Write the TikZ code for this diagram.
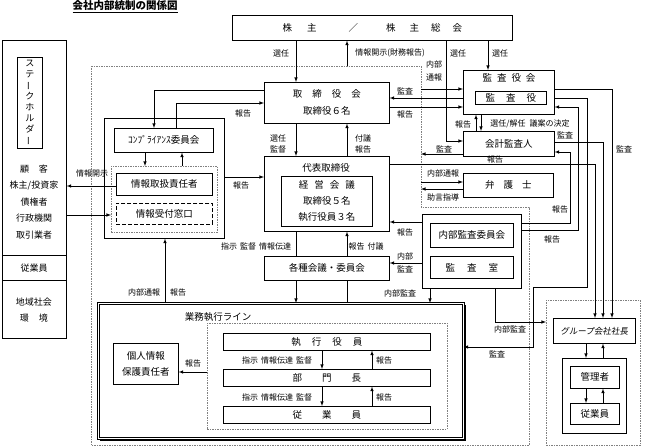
\documentclass[tikz,border=0pt]{standalone}
\usepackage{fontspec}
\setmainfont{Noto Sans CJK JP}
\newfontfamily\slantfont{Noto Sans CJK JP}[FakeSlant=0.15]
\usetikzlibrary{arrows}
\tikzstyle{box} = [draw, line width=0.6pt, rectangle, inner sep=0pt, anchor=north west, align=center, font=\fontsize{9.5}{12}\selectfont]
\tikzstyle{grp} = [draw, line width=0.6pt, rectangle, inner sep=0pt, anchor=north west]
\tikzstyle{dots} = [draw=gray, line width=0.5pt, dash pattern=on 1.5pt off 1pt, rectangle, inner sep=0pt, anchor=north west]
\tikzstyle{lbl} = [inner sep=0pt, font=\fontsize{8}{9}\selectfont]
\tikzstyle{arr} = [->, >=latex, line width=0.6pt]
\tikzstyle{ln} = [line width=0.6pt]

\begin{document}
\begin{tikzpicture}[x=1pt, y=-1pt]
\useasboundingbox (0,0) rectangle (645,447);
\node[inner sep=0pt, font=\fontsize{10.5}{12}\selectfont\bfseries] (title) at (125,7) {\underline{会社内部統制の関係図}};

% company boundary
\coordinate (cotl) at (91,66);
\coordinate (cotr) at (421,66);
\draw[gray, line width=0.5pt, dash pattern=on 1.5pt off 1pt] (cotl) -- (cotr) -- (421,207) -- (529,207) -- (529,445) -- (91,445) -- cycle;

% stakeholders
\node[grp, minimum width=64pt, minimum height=298pt] (stake) at (2,40) {};
\draw[ln] (stake.west |- 0,255) -- (stake.east |- 0,255);
\draw[ln] (stake.west |- 0,280) -- (stake.east |- 0,280);
\node[box, line width=0.9pt, minimum width=25pt, minimum height=91pt, font=\fontsize{9}{11}\selectfont] (sh) at (17,57) {ス\\テ\\\rotatebox[origin=c]{90}{ー}\\ク\\ホ\\ル\\ダ\\\rotatebox[origin=c]{90}{ー}};
\node[lbl, align=center, font=\fontsize{9}{16.5}\selectfont] (shlist) at (34,202) {顧\hspace{10pt}客\\株主/投資家\\債権者\\行政機関\\取引業者};
\node[lbl, font=\fontsize{9}{11}\selectfont] (shemp) at (34,268) {従業員};
\node[lbl, align=center, font=\fontsize{9}{16}\selectfont] (shcom) at (34,310) {地域社会\\環\hspace{10pt}境};

% compliance
\node[grp, minimum width=120pt, minimum height=120pt] (compgrp) at (104,118) {};
\node[box, minimum width=99pt, minimum height=24pt] (comp) at (114,128) {ｺﾝﾌﾟﾗｲｱﾝｽ委員会};
\node[dots, minimum width=106pt, minimum height=66pt] (info) at (111,166) {};
\node[box, minimum width=96pt, minimum height=22pt] (joho) at (116,173) {情報取扱責任者};
\node[box, line width=0.8pt, dash pattern=on 4pt off 2pt, minimum width=96pt, minimum height=21pt] (madoguchi) at (116,203) {情報受付窓口};

% board and executives
\node[box, minimum width=125pt, minimum height=41pt, font=\fontsize{9.5}{17}\selectfont] (tori) at (264,82) {取\hspace{10pt}締\hspace{10pt}役\hspace{10pt}会\\取締役６名};
\node[grp, minimum width=125pt, minimum height=75pt] (daihyo) at (264,156) {};
\node[lbl, font=\fontsize{9.5}{11}\selectfont] (daihyot) at (326,168) {代表取締役};
\node[box, minimum width=91pt, minimum height=50pt, font=\fontsize{9.5}{16}\selectfont] (keiei) at (281,176) {経\hspace{6pt}営\hspace{6pt}会\hspace{6pt}議\\取締役５名\\執行役員３名};
\node[box, minimum width=125pt, minimum height=24pt] (kakushu) at (264,256) {各種会議・委員会};
\node[box, minimum width=280pt, minimum height=25pt] (kabu) at (232,15) {株\hspace{15pt}主\hspace{32pt}／\hspace{28pt}株\hspace{14pt}主\hspace{12pt}総\hspace{12pt}会};

% audit
\node[grp, minimum width=91pt, minimum height=44pt] (kansa) at (463,70) {};
\node[lbl, font=\fontsize{9.5}{11}\selectfont] (kansat) at (509,78) {監\hspace{5pt}査\hspace{5pt}役\hspace{5pt}会};
\node[box, line width=0.9pt, minimum width=71pt, minimum height=13pt] (kansayaku) at (475,91) {監\hspace{11pt}査\hspace{11pt}役};
\node[box, minimum width=91pt, minimum height=25pt] (kaikei) at (463,131) {会計監査人};
\node[box, minimum width=90pt, minimum height=24pt] (bengo) at (463,173) {弁\hspace{9pt}護\hspace{9pt}士};
\node[grp, minimum width=99pt, minimum height=74pt] (naibu) at (422,214) {};
\node[box, minimum width=83pt, minimum height=24pt] (iinkai) at (430,223) {内部監査委員会};
\node[box, minimum width=83pt, minimum height=22pt] (shitsu) at (430,256) {監\hspace{12pt}査\hspace{12pt}室};

% business line
\node[grp, double, double distance=1.5pt, minimum width=365pt, minimum height=135pt] (gyomu) at (98,303) {};
\draw[line width=1pt] ([xshift=1.8pt,yshift=-2pt]gyomu.north east) -- ([xshift=1.8pt,yshift=-1.8pt]gyomu.south east) -- ([xshift=2pt,yshift=-1.8pt]gyomu.south west);
\node[lbl, font=\fontsize{9.5}{11}\selectfont] (gyomut) at (218,317) {業務執行ライン};
\node[dots, minimum width=240pt, minimum height=106pt] (gyomuin) at (207,323) {};
\node[box, minimum width=207pt, minimum height=17pt] (shikko) at (223,333) {執\hspace{11pt}行\hspace{11pt}役\hspace{11pt}員};
\node[box, minimum width=207pt, minimum height=17pt] (bumon) at (223,369) {部\hspace{20pt}門\hspace{20pt}長};
\node[box, minimum width=207pt, minimum height=17pt] (jugyo) at (223,406) {従\hspace{20pt}業\hspace{20pt}員};
\node[box, minimum width=65pt, minimum height=41pt, font=\fontsize{9.5}{16}\selectfont] (kojin) at (113,343) {個人情報\\保護責任者};

% group companies
\node[dots, minimum width=94pt, minimum height=145pt] (grpco) at (546,300) {};
\node[box, minimum width=82pt, minimum height=25pt, font=\slantfont\fontsize{8.5}{11}\selectfont] (gshacho) at (553,318) {グループ会社社長};
\node[grp, line width=0.9pt, minimum width=64pt, minimum height=75pt] (gin) at (562,358) {};
\node[box, minimum width=49pt, minimum height=22pt] (kanri) at (570,366) {管理者};
\node[box, minimum width=49pt, minimum height=21pt] (gjugyo) at (570,403) {従業員};

% shareholders
\draw[arr] (kabu.south -| 296,0) -- (tori.north -| 296,0);
\node[lbl] (l1) at (281,53) {選任};
\draw[arr] (347,0 |- cotl) -- (kabu.south -| 347,0);
\node[lbl] (l2) at (390,53) {情報開示(財務報告)};
\draw[arr] (kabu.south -| 446,0) |- (kaikei.west |- 0,141);
\node[lbl] (l3) at (458,53) {選任};
\draw[arr] (kabu.south -| 488,0) -- (kansa.north -| 488,0);
\node[lbl] (l4) at (500,53) {選任};

% audit board
\draw[arr] (cotr |- 0,89) -- (kansa.west |- 0,89);
\node[lbl, align=center, font=\fontsize{8}{13}\selectfont] (l5) at (434,71) {内部\\通報};
\draw[arr] (kansa.west |- 0,98) -- (tori.east |- 0,98);
\node[lbl] (l6) at (405,91) {監査};
\draw[arr] (tori.east |- 0,107) -- (kansa.west |- 0,107);
\node[lbl] (l7) at (405,114) {報告};
\draw[arr] (kaikei.north -| 476,0) -- (kansa.south -| 476,0);
\draw[arr] (kansa.south -| 481,0) -- (kaikei.north -| 481,0);
\node[lbl] (l8) at (463,124) {報告};
\node[lbl] (l9) at (530,124) {選任/解任\hspace{4pt}議案の決定};
\draw[arr] (kaikei.west |- 0,154) -- (cotr |- 0,154);
\node[lbl] (l10) at (444,149) {監査};

% lines to the right
\draw[arr] (daihyo.east |- 0,164) -| (gshacho.north -| 595,0);
\node[lbl] (l11) at (495,159) {報告};
\draw[arr] (kaikei.east |- 0,142) -| (gshacho.north -| 603,0);
\node[lbl] (l12) at (565,135) {監査};
\draw[arr] (kansa.east |- 0,89) -| (gshacho.north -| 612,0);
\node[lbl] (l13) at (624,149) {監査};
\draw[arr] (kansa.east |- 0,98) -| (587,287) -| (533,347) -- (gyomu.east |- 0,347);
\node[lbl] (l14) at (497,354) {監査};
\draw[arr] (naibu.east |- 0,230) -| (578,107) -- (kansa.east |- 0,107);
\node[lbl] (l15) at (552,239) {報告};
\draw[arr] (naibu.east |- 0,223) -| (570,152) -- (kaikei.east |- 0,152);
\node[lbl] (l16) at (560,209) {報告};

% lawyer
\draw[arr] (cotr |- 0,182) -- (bengo.west |- 0,182);
\node[lbl] (l17) at (443,173) {内部通報};
\draw[arr] (bengo.west |- 0,189) -- (cotr |- 0,189);
\node[lbl] (l18) at (443,197) {助言指導};

% internal audit
\draw[arr] (naibu.west |- 0,222) -- (daihyo.east |- 0,222);
\node[lbl] (l19) at (405,232) {報告};
\draw[arr] (naibu.west |- 0,263) -- (kakushu.east |- 0,263);
\node[lbl, align=center, font=\fontsize{8}{12.5}\selectfont] (l20) at (405,263) {内部\\監査};
\draw[arr] (naibu.south -| 430,0) -- (gyomu.north -| 430,0);
\node[lbl] (l21) at (400,293) {内部監査};
\draw[arr] (naibu.south -| 495,0) |- (grpco.west |- 0,322);
\node[lbl] (l22) at (510,329) {内部監査};

% board - ceo - meetings
\draw[arr] (tori.south -| 296,0) -- (daihyo.north -| 296,0);
\node[lbl, align=center, font=\fontsize{8}{11}\selectfont] (l23) at (278,144) {選任\\監督};
\draw[arr] (daihyo.north -| 347,0) -- (tori.south -| 347,0);
\node[lbl, align=center, font=\fontsize{8}{11}\selectfont] (l24) at (363,144) {付議\\報告};
\draw[ln] (daihyo.south -| 296,0) -- (kakushu.north -| 296,0);
\node[lbl] (l25) at (256,246) {指示\hspace{3pt}監督\hspace{3pt}情報伝達};
\draw[arr] (kakushu.north -| 347,0) -- (daihyo.south -| 347,0);
\node[lbl] (l26) at (366,246) {報告\hspace{3pt}付議};
\draw[arr] (kakushu.south -| 296,0) -- (gyomu.north -| 296,0);
\draw[ln] (kakushu.south -| 347,0) -- (gyomu.north -| 347,0);

% compliance
\draw[arr] (tori.west |- 0,90) -| (comp.north -| 154,0);
\draw[arr] (comp.north -| 176,0) |- (tori.west |- 0,103);
\node[lbl] (l27) at (243,113) {報告};
\draw[arr] (comp.south -| 145,0) -- (info.north -| 145,0);
\draw[arr] (info.north -| 182,0) -- (comp.south -| 182,0);
\draw[arr] (joho.west |- 0,186) -- (stake.east |- 0,186);
\node[lbl] (l28) at (92,173) {情報開示};
\draw[arr] (stake.east |- 0,215) -- (info.west |- 0,215);
\draw[arr] (compgrp.east |- 0,177) -- (daihyo.west |- 0,177);
\node[lbl] (l29) at (241,185) {報告};
\draw[arr] (gyomu.north -| 165,0) -- (compgrp.south -| 165,0);
\node[lbl] (l30) at (144,292) {内部通報};
\node[lbl] (l31) at (178,292) {報告};

% business line inside
\draw[arr] (shikko.south -| 322,0) -- (bumon.north -| 322,0);
\draw[arr] (bumon.north -| 372,0) -- (shikko.south -| 372,0);
\draw[arr] (bumon.south -| 322,0) -- (jugyo.north -| 322,0);
\draw[arr] (jugyo.north -| 372,0) -- (bumon.south -| 372,0);
\node[lbl] (l32) at (277,360) {指示\hspace{3pt}情報伝達\hspace{3pt}監督};
\node[lbl] (l33) at (384,360) {報告};
\node[lbl] (l34) at (277,397) {指示\hspace{3pt}情報伝達\hspace{3pt}監督};
\node[lbl] (l35) at (384,397) {報告};
\draw[arr] (gyomuin.west |- 0,372) -- (kojin.east |- 0,372);
\node[lbl] (l36) at (193,363) {報告};

% group inside
\draw[arr] (gshacho.south -| 586,0) -- (gin.north -| 586,0);
\draw[arr] (gin.north -| 603,0) -- (gshacho.south -| 603,0);
\draw[arr] (kanri.south -| 586,0) -- (gjugyo.north -| 586,0);
\draw[arr] (gjugyo.north -| 603,0) -- (kanri.south -| 603,0);
\end{tikzpicture}
\end{document}
